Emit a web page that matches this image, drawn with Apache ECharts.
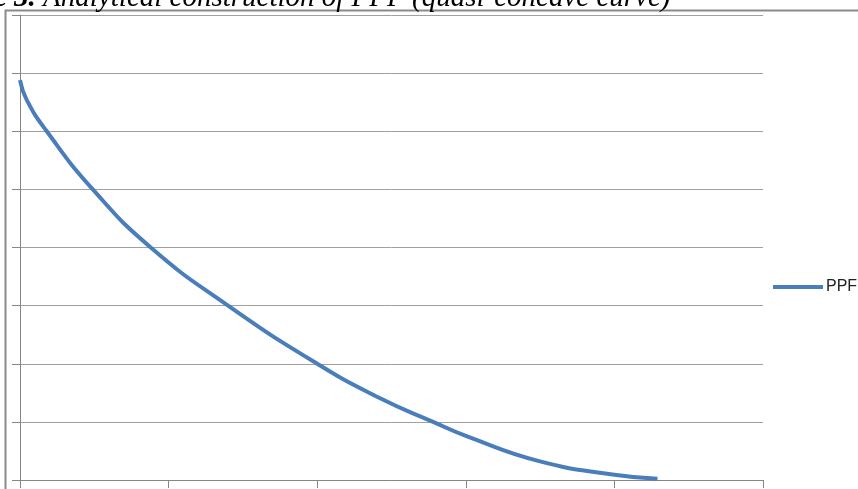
<!DOCTYPE html>
<html>
<head>
<meta charset="utf-8">
<script src="https://cdn.jsdelivr.net/npm/echarts@6/dist/echarts.min.js"></script>
<style>
  html, body { margin: 0; padding: 0; background: #fff; }
  #chart { width: 858px; height: 489px; }
</style>
</head>
<body>
<div id="chart"></div>
<script>
// Production possibility frontier: quantity of good X against quantity of good Y
const goodX = [0, 0.045, 0.18, 0.49, 0.88, 1.40, 2.0, 2.42, 2.78, 3.0, 3.5, 4.0, 4.29];
const goodY = [6.88, 6.54, 6.0, 5.0, 4.0, 3.0, 2.0, 1.41, 1.0, 0.76, 0.32, 0.09, 0.02];
const seriesName = 'PPF';
const titleLead = 'e 3.';
const titleRest = ' Analytical construction of PPF (quasi-concave curve)';

const chart = echarts.init(document.getElementById('chart'));
const points = goodX.map((x, i) => [x, goodY[i]]);

chart.setOption({
  animation: false,
  grid: { left: 20, right: 95, top: 15, bottom: 9, containLabel: false },
  xAxis: {
    type: 'value', min: 0, max: 5, interval: 1,
    axisLine: { show: true, onZero: false, lineStyle: { color: '#868686', width: 1 } },
    axisTick: { show: true, length: 8, lineStyle: { color: '#868686' } },
    axisLabel: { show: false },
    splitLine: { show: false }
  },
  yAxis: {
    type: 'value', min: 0, max: 8, interval: 1,
    axisLine: { show: true, lineStyle: { color: '#868686', width: 1 } },
    axisTick: { show: true, length: 8, lineStyle: { color: '#868686' } },
    axisLabel: { show: false },
    splitLine: { show: true, lineStyle: { color: '#a0a0a0', width: 1 } }
  },
  legend: {
    left: 768, top: 274,
    icon: 'rect', itemWidth: 50, itemHeight: 4,
    textStyle: { fontFamily: 'Liberation Sans', fontSize: 16, color: '#222', padding: [0, 0, 0, -2] },
    data: [seriesName]
  },
  graphic: [
    {
      type: 'polyline',
      shape: { points: [[5.5, 489], [5.5, 10.5], [858, 10.5]] },
      style: { stroke: '#8a8a8a', lineWidth: 2, fill: null },
      silent: true
    },
    {
      type: 'text', left: -6, top: -16,
      style: {
        text: '{b|' + titleLead + '}{r|' + titleRest + '}',
        rich: {
          b: { font: 'italic bold 29px "Liberation Serif"', fill: '#000' },
          r: { font: 'italic 29px "Liberation Serif"', fill: '#000' }
        }
      },
      silent: true
    }
  ],
  series: [{
    name: seriesName,
    type: 'line',
    data: points,
    smooth: 0.5,
    showSymbol: false,
    lineStyle: { color: '#4a7ebb', width: 4 },
    itemStyle: { color: '#4a7ebb' }
  }]
});
</script>
</body>
</html>
